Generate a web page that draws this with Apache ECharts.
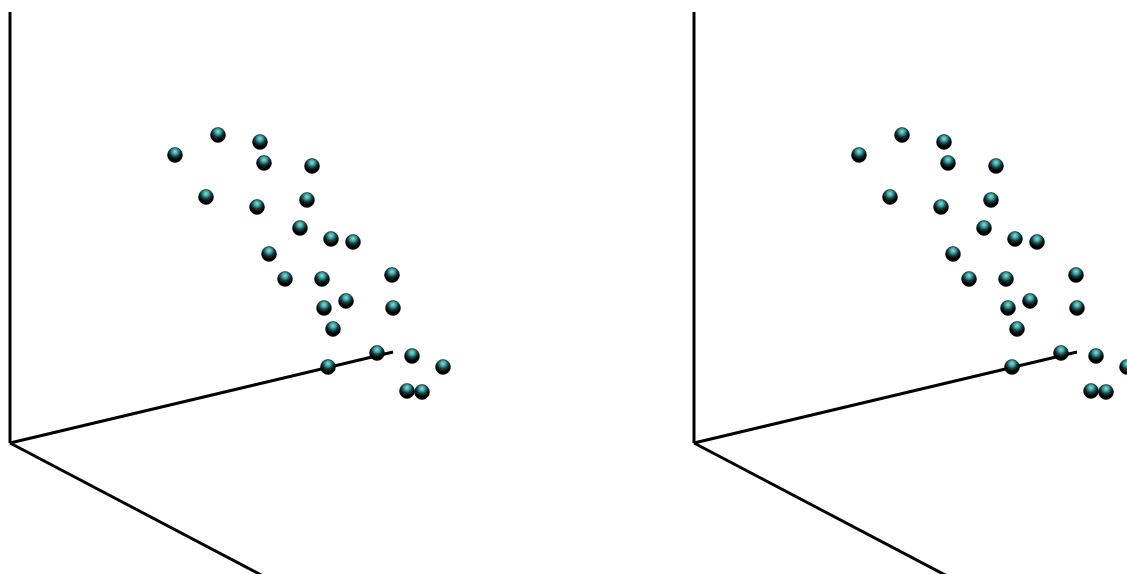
<!DOCTYPE html>
<html>
<head>
<meta charset="utf-8">
<script src="https://cdn.jsdelivr.net/npm/echarts@6/dist/echarts.min.js"></script>
<style>
  html, body { margin: 0; padding: 0; background: #fff; }
  #chart { width: 1127px; height: 574px; }
</style>
</head>
<body>
<div id="chart"></div>
<script>
// Projected point positions (horizontal, vertical) in plot units
const projX = [33.0, 41.6, 50.0, 50.8, 60.4, 39.2, 49.4, 59.4, 58.0, 64.2,
               68.6, 51.8, 55.0, 62.4, 76.4, 67.2, 62.8, 76.6, 64.6, 73.4,
               63.6, 80.4, 86.6, 79.4, 82.4];
const projY = [57.6, 61.6, 60.2, 56.0, 55.4, 49.2, 47.2, 48.6, 43.0, 40.8,
               40.2, 37.8, 32.8, 32.8, 33.6, 28.4, 27.0, 27.0, 22.8, 18.0,
               15.2, 17.4, 15.2, 10.4, 10.2];

// Projected end points of the three coordinate axes, all starting at the origin
const axisUpEnd = [0, 86.2];
const axisDepthEnd = [76.6, 18.2];
const axisFrontEnd = [51, -26.8];

const chart = echarts.init(document.getElementById('chart'));

const sphere = {
  type: 'radial', x: 0.5, y: 0.28, r: 0.75,
  colorStops: [
    { offset: 0, color: '#80e0e0' },
    { offset: 0.22, color: '#42a8a8' },
    { offset: 0.45, color: '#133e3e' },
    { offset: 0.7, color: '#000000' },
    { offset: 1, color: '#000000' }
  ]
};

const points = projX.map((x, i) => [x, projY[i]]);

// Two identical panels: left edge and plotted width (5 px per unit)
const panelLeft = [10, 694];
const panelXMax = [100, 86.6];

const grids = panelLeft.map((left, i) => ({
  left: left, top: 0, width: panelXMax[i] * 5, height: 574,
  outerBoundsMode: 'none', containLabel: false
}));
const xAxes = panelLeft.map((_, i) => ({ gridIndex: i, type: 'value', min: 0, max: panelXMax[i], show: false }));
const yAxes = panelLeft.map((_, i) => ({ gridIndex: i, type: 'value', min: -26.2, max: 88.6, show: false }));

const series = [];
panelLeft.forEach((_, i) => {
  [axisUpEnd, axisDepthEnd, axisFrontEnd].forEach(end => {
    series.push({
      type: 'line', xAxisIndex: i, yAxisIndex: i,
      data: [[0, 0], end], symbol: 'none', clip: false,
      lineStyle: { color: '#000', width: 3 }, z: 1
    });
  });
  series.push({
    type: 'scatter', xAxisIndex: i, yAxisIndex: i,
    data: points, symbol: 'circle', symbolSize: 15, clip: false,
    itemStyle: { color: sphere, borderColor: '#000', borderWidth: 0.5, opacity: 1 },
    z: 3
  });
});

chart.setOption({
  backgroundColor: '#ffffff',
  animation: false,
  grid: grids,
  xAxis: xAxes,
  yAxis: yAxes,
  series: series
});
</script>
</body>
</html>
